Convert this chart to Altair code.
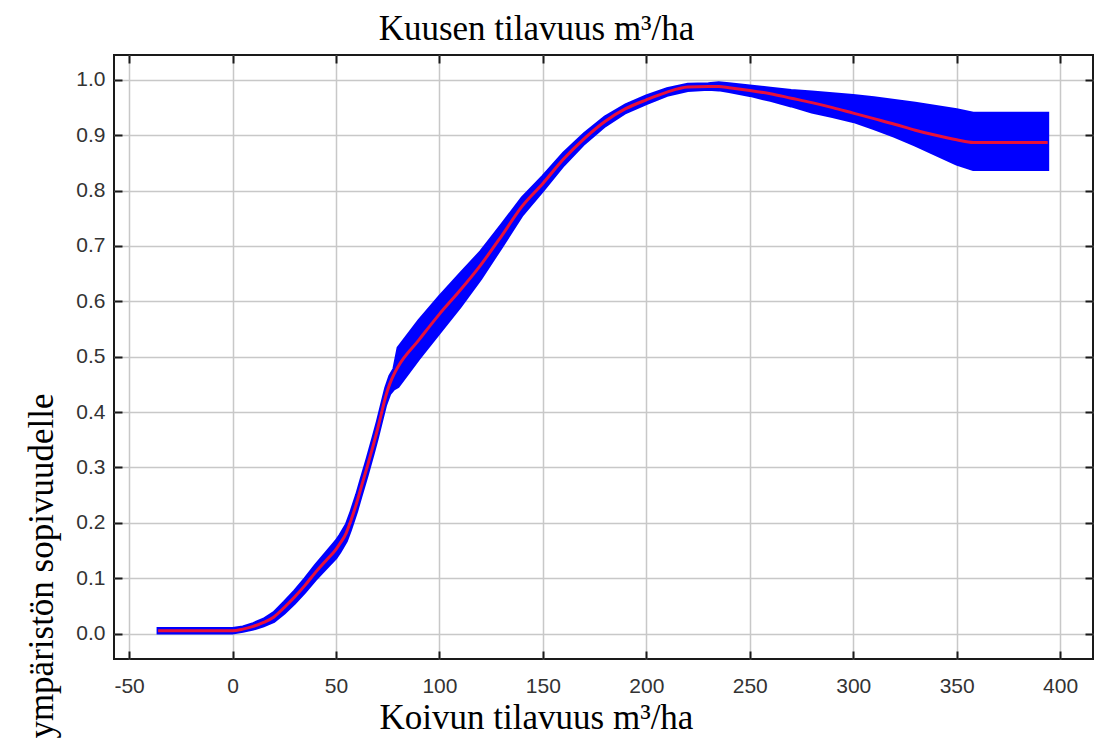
import altair as alt
import pandas as pd

# ---- data ----
x_vals = [-36, 0, 5, 10, 15, 20, 25, 30, 35, 40, 45, 50, 52, 55, 57, 60, 62, 65, 68, 70,
          72, 74, 76, 78, 80,
          90, 100, 110, 120, 130, 140, 150, 160, 170, 180, 190, 200, 210, 220, 230, 235,
          240, 250, 260, 270, 280, 290, 300, 310, 320, 330, 340, 350, 358, 394]
mid_vals = [0.005, 0.005, 0.008, 0.013, 0.02, 0.03, 0.047, 0.066, 0.087, 0.11, 0.131, 0.152,
            0.163, 0.182, 0.202, 0.236, 0.262, 0.3, 0.34, 0.368,
            0.398, 0.428, 0.451, 0.468, 0.482,
            0.53, 0.577, 0.62, 0.666, 0.718, 0.772, 0.813, 0.857, 0.894, 0.925, 0.948, 0.964,
            0.978, 0.987, 0.988, 0.988,
            0.986, 0.981, 0.975, 0.967, 0.959, 0.95, 0.94, 0.93, 0.92, 0.909, 0.9, 0.892,
            0.887, 0.887]
hi_vals = [0.009, 0.009, 0.012, 0.018, 0.026, 0.038, 0.057, 0.077, 0.099, 0.123, 0.145, 0.167,
           0.178, 0.197, 0.217, 0.251, 0.277, 0.315, 0.355, 0.383,
           0.413, 0.443, 0.465, 0.478, 0.516,
           0.565, 0.609, 0.65, 0.69, 0.738, 0.787, 0.826, 0.868, 0.903, 0.933, 0.955, 0.971,
           0.984, 0.992, 0.993, 0.995,
           0.993, 0.989, 0.985, 0.981, 0.978, 0.975, 0.972, 0.968, 0.963, 0.958, 0.952, 0.946,
           0.94, 0.94]
lo_vals = [0.001, 0.001, 0.004, 0.008, 0.014, 0.022, 0.037, 0.055, 0.075, 0.097, 0.117, 0.137,
           0.148, 0.167, 0.187, 0.221, 0.247, 0.285, 0.325, 0.353,
           0.383, 0.413, 0.433, 0.442, 0.446,
           0.496, 0.543, 0.59, 0.641, 0.698, 0.756, 0.8, 0.846, 0.885, 0.917, 0.941, 0.957,
           0.972, 0.981, 0.983, 0.982,
           0.979, 0.972, 0.963, 0.953, 0.942, 0.934, 0.925, 0.912, 0.898, 0.882, 0.865, 0.848,
           0.838, 0.838]

x_ticks = [-50, 0, 50, 100, 150, 200, 250, 300, 350, 400]
y_ticks = [0.0, 0.1, 0.2, 0.3, 0.4, 0.5, 0.6, 0.7, 0.8, 0.9, 1.0]

title_text = "Kuusen tilavuus m³/ha"
x_title = "Koivun tilavuus m³/ha"
y_title = "ympäristön sopivuudelle"

df = pd.DataFrame({"x": x_vals, "mid": mid_vals, "lo": lo_vals, "hi": hi_vals})

xs = alt.Scale(domain=[-57.3, 415.9], nice=False, zero=False)
ys = alt.Scale(domain=[-0.046, 1.045], nice=False, zero=False)

TICK_COL = "#1a1a1a"
SERIF = "Liberation Serif"
SANS = "Liberation Sans"

# grid-only axes
grid_x = alt.Axis(orient="bottom", values=x_ticks, grid=True, gridColor="#c8c8c8", gridWidth=1.5,
                  labels=False, ticks=False, domain=False, title=None)
grid_y = alt.Axis(orient="left", values=y_ticks, grid=True, gridColor="#c8c8c8", gridWidth=1.5,
                  labels=False, ticks=False, domain=False, title=None)

# labelled axes with inward ticks
lab_x = alt.Axis(orient="bottom", values=x_ticks, offset=-8, tickSize=8, tickWidth=2,
                 tickColor=TICK_COL, grid=False, domain=False,
                 labelFont=SANS, labelFontSize=21, labelColor="#333333", labelPadding=16,
                 labelFlush=False, labelOverlap=False, labelExpr="'' + datum.value",
                 title=x_title, titleFont=SERIF, titleFontSize=35, titleFontWeight="normal",
                 titleColor="black", titleX=422, titleY=77, titleBaseline="alphabetic",
                 titleAlign="center")
lab_y = alt.Axis(orient="left", values=y_ticks, offset=-8, tickSize=8, tickWidth=2,
                 tickColor=TICK_COL, grid=False, domain=False,
                 labelFont=SANS, labelFontSize=21, labelColor="#333333", labelPadding=9,
                 labelFlush=False, labelOverlap=False, format=".1f",
                 title=y_title, titleFont=SERIF, titleFontSize=35, titleFontWeight="normal",
                 titleColor="black", titleAngle=270, titleX=-70, titleY=338,
                 titleAlign="right", titleBaseline="alphabetic")

# opposite-side inward ticks (top axis also carries the chart's heading)
top_x = alt.Axis(orient="top", values=x_ticks, offset=-8, tickSize=8, tickWidth=2,
                 tickColor=TICK_COL, grid=False, domain=False, labels=False,
                 title=title_text, titleFont=SERIF, titleFontSize=35, titleFontWeight="normal",
                 titleColor="black", titleX=422, titleY=-24, titleBaseline="alphabetic",
                 titleAlign="center")
right_y = alt.Axis(orient="right", values=y_ticks, offset=-8, tickSize=8, tickWidth=2,
                   tickColor=TICK_COL, grid=False, domain=False, labels=False, title=None)

band = alt.Chart(df).mark_area(color="#0000ff", stroke="#0000ff", strokeWidth=3,
                               opacity=1).encode(
    x=alt.X("x:Q", scale=xs, axis=grid_x),
    y=alt.Y("lo:Q", scale=ys, axis=grid_y),
    y2="hi:Q",
)

ghost = alt.Chart(df).mark_line(strokeOpacity=0).encode(
    x=alt.X("x:Q", scale=xs, axis=lab_x),
    y=alt.Y("mid:Q", scale=ys, axis=lab_y),
)

line = alt.Chart(df).mark_line(color="#e8103a", strokeWidth=3,
                               interpolate="monotone").encode(
    x=alt.X("x:Q", scale=xs, axis=top_x),
    y=alt.Y("mid:Q", scale=ys, axis=right_y),
)

chart = alt.layer(band, ghost, line).resolve_axis(
    x="independent", y="independent"
).properties(
    width=979,
    height=604,
    autosize=alt.AutoSizeParams(type="none"),
    padding={"left": 106, "top": 47, "right": 4, "bottom": 79},
    background="white",
).configure_view(
    stroke="#1a1a1a", strokeWidth=2
)

chart.save("out.html", embed_options={"renderer": "svg", "actions": False})
